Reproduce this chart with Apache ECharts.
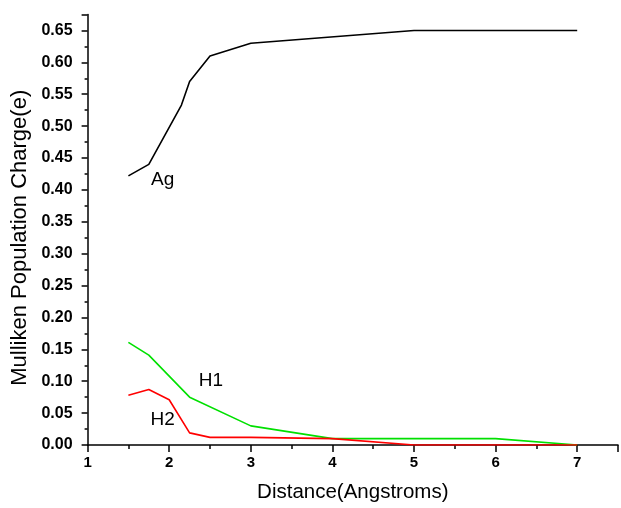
<!DOCTYPE html>
<html><head><meta charset="utf-8">
<script src="https://cdn.jsdelivr.net/npm/echarts@6/dist/echarts.min.js"></script>
<style>html,body{margin:0;padding:0;background:#fff}#c{width:621px;height:508px}</style>
</head><body><div id="c"></div>
<script>
const agX = [1.5, 1.75, 2.15, 2.25, 2.5, 3, 5, 7];
const agY = [0.422, 0.44, 0.533, 0.57, 0.61, 0.63, 0.65, 0.65];
const h1X = [1.5, 1.75, 2.25, 3, 4, 6, 7];
const h1Y = [0.161, 0.141, 0.075, 0.030, 0.010, 0.010, 0.0];
const h2X = [1.5, 1.75, 2.0, 2.25, 2.5, 3, 4, 5, 6, 7];
const h2Y = [0.078, 0.087, 0.071, 0.019, 0.012, 0.012, 0.010, 0.0, 0.0, 0.0];
const labels = [
  {name: 'Ag', x: 1.92, y: 0.416},
  {name: 'H1', x: 2.51, y: 0.100},
  {name: 'H2', x: 1.92, y: 0.039}
];
const xTitle = 'Distance(Angstroms)';
const yTitle = 'Mulliken Population Charge(e)';
const font = 'Liberation Sans, Arial, sans-serif';

function pairs(xs, ys){ return xs.map((x,i)=>[x, ys[i]]); }
function mp(l){
  return {symbol:'circle', symbolSize:0, data:[{coord:[l.x,l.y], value:l.name}],
    label:{show:true, position:'inside', formatter:l.name, color:'#000', fontSize:19, fontFamily:font}};
}
const chart = echarts.init(document.getElementById('c'));
const axisCommon = {
  axisLine:{show:true, onZero:false, lineStyle:{color:'#000', width:1.5}},
  splitLine:{show:false},
};
chart.setOption({
  animation:false,
  grid:{left:87.6, right:1, top:14.5, bottom:57.3, containLabel:false},
  xAxis:Object.assign({}, axisCommon, {
    type:'value', min:1, max:7.5, interval:1,
    axisTick:{show:true, length:7, inside:false, lineStyle:{color:'#000', width:1.5}},
    minorTick:{show:true, splitNumber:2, length:4, lineStyle:{color:'#000', width:1.5}},
    axisLabel:{color:'#000', fontSize:15, fontWeight:'bold', fontFamily:font, margin:10,
      formatter:v=> v>7 ? '' : String(v)},
    name:xTitle, nameLocation:'middle', nameGap:37,
    nameTextStyle:{color:'#000', fontSize:20.5, fontFamily:font}
  }),
  yAxis:Object.assign({}, axisCommon, {
    type:'value', min:0, max:0.675, interval:0.05,
    axisTick:{show:true, length:6, lineStyle:{color:'#000', width:1.5}},
    minorTick:{show:true, splitNumber:2, length:3, lineStyle:{color:'#000', width:1.5}},
    axisLabel:{color:'#000', fontSize:16, fontWeight:'bold', fontFamily:font, margin:15,
      formatter:v=> v>0.66 ? '' : v.toFixed(2)},
    name:yTitle, nameLocation:'middle', nameGap:56,
    nameTextStyle:{color:'#000', fontSize:22, fontFamily:font, padding:[0,16,0,0]}
  }),
  series:[
    {type:'line', data:pairs(agX, agY), symbol:'none', lineStyle:{color:'#000', width:1.6}, markPoint:mp(labels[0])},
    {type:'line', data:pairs(h1X, h1Y), symbol:'none', lineStyle:{color:'#00e000', width:1.6}, markPoint:mp(labels[1])},
    {type:'line', data:pairs(h2X, h2Y), symbol:'none', lineStyle:{color:'#ff0000', width:1.6}, markPoint:mp(labels[2])}
  ]
});
</script></body></html>
